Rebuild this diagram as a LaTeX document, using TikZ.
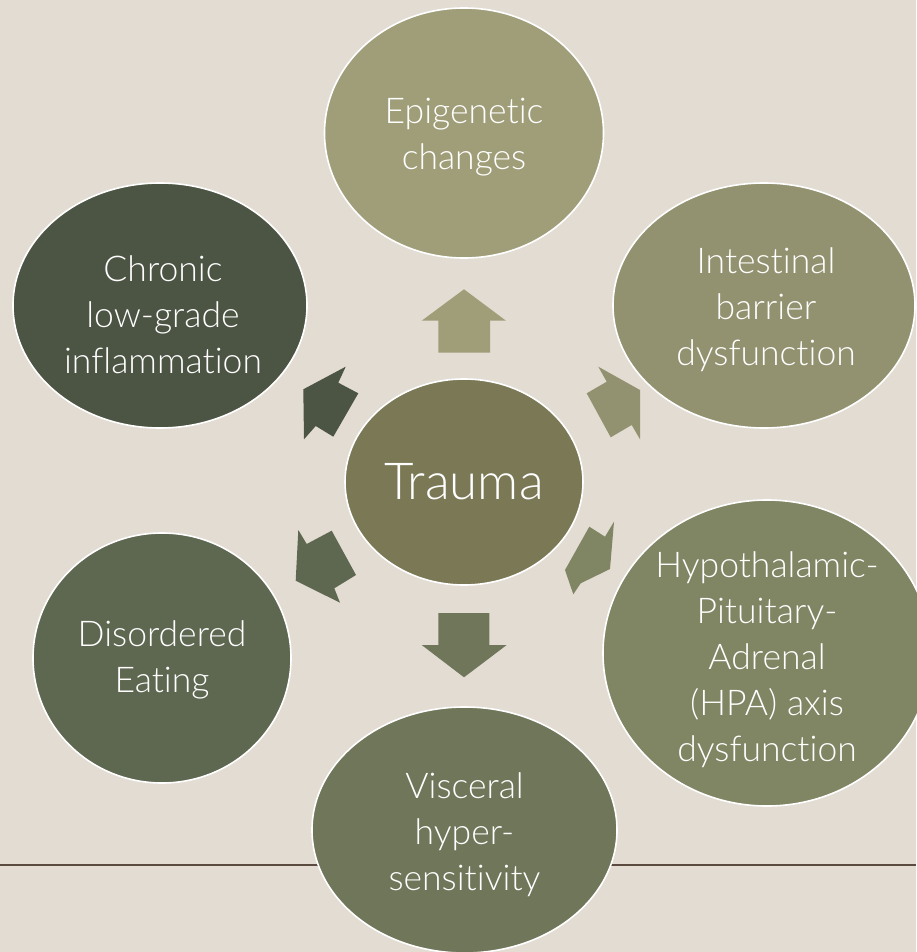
\documentclass[tikz,border=0pt]{standalone}
\usepackage{fontspec}
\setmainfont{Lato Light}[Ligatures={NoCommon,NoContextual,NoRare}]
\usetikzlibrary{shapes.geometric}
\definecolor{bgc}{HTML}{E3DCD3}
\definecolor{cEpi}{HTML}{A09E79}
\definecolor{cInt}{HTML}{939270}
\definecolor{cHpa}{HTML}{808563}
\definecolor{cVis}{HTML}{6F7659}
\definecolor{cDis}{HTML}{5E6750}
\definecolor{cChr}{HTML}{4C5443}
\definecolor{cTra}{HTML}{7B7856}
\definecolor{cLine}{HTML}{5B4A40}
\tikzset{
  bubble/.style={ellipse, draw=white, line width=1.6pt, inner sep=0pt},
  txt/.style={text=white, align=center, inner sep=0pt, font=\fontsize{35.5}{46}\selectfont}
}
\begin{document}
\begin{tikzpicture}[x=1pt,y=-1pt]
\useasboundingbox (0,0) rectangle (916,952);
\fill[bgc] (0,0) rectangle (916,952);
% horizontal rule
\coordinate (ruleL) at (0,865);
\coordinate (ruleR) at (916,865);
\draw[cLine, line width=2.2pt] (ruleL) -- (ruleR);
% bubbles
\node[bubble, fill=cEpi, minimum width=279pt, minimum height=250pt] (epi) at (464,133) {};
\node[bubble, fill=cInt, minimum width=302pt, minimum height=245pt] (int) at (764,305.5) {};
\node[bubble, fill=cHpa, minimum width=328pt, minimum height=306pt] (hpa) at (767,653) {};
\node[bubble, fill=cVis, minimum width=305pt, minimum height=246pt] (vis) at (464.5,830) {};
\node[bubble, fill=cDis, minimum width=258pt, minimum height=250pt] (dis) at (162,658) {};
\node[bubble, fill=cChr, minimum width=294pt, minimum height=245pt] (chr) at (160,305.5) {};
\node[bubble, fill=cTra, minimum width=238pt, minimum height=206pt] (tra) at (464,482) {};
% texts
\node[txt] (epiT) at ([yshift=-4pt]epi.center) {Epigenetic\\changes};
\node[txt] (intT) at ([xshift=2pt,yshift=-4pt]int.center) {Intestinal\\barrier\\dysfunction};
\node[txt] (hpaT) at ([yshift=-7pt]hpa.center) {Hypothalamic-\\Pituitary-\\Adrenal\\(HPA) axis\\dysfunction};
\node[txt] (visT) at ([yshift=-5pt]vis.center) {Visceral\\hyper-\\sensitivity};
\node[txt] (disT) at ([yshift=-2pt]dis.center) {Disordered\\Eating};
\node[txt] (chrT) at ([xshift=3pt,yshift=-9pt]chr.center) {Chronic\\low-grade\\inflammation};
\node[txt, font=\fontsize{51}{60}\selectfont] (traT) at ([yshift=0pt]tra.center) {Trauma};
% block arrows
\fill[cEpi] (464,289.3) -- (506,320.7) -- (490,320.7) -- (490,352.7) -- (438.3,352.7) -- (438.3,320.7) -- (421.7,320.7) -- cycle;
\fill[cVis] (464,677.3) -- (506.7,645) -- (489.3,645) -- (489.3,613) -- (438.3,613) -- (438.3,645) -- (421.7,645) -- cycle;
\fill[cChr] (303.3,389.3) -- (345.7,366.7) -- (338.3,382.7) -- (358.3,393.3) -- (333.3,436.7) -- (315.7,426) -- (304,439.3) -- cycle;
\fill[cInt] (598.3,366.7) -- (640,390) -- (640,439.3) -- (631.7,425) -- (610.7,437.3) -- (586.7,393.3) -- (606.7,381.7) -- cycle;
\fill[cDis] (298.3,530) -- (306.7,544) -- (331.7,530.7) -- (356,575) -- (334.3,588.3) -- (340,602.7) -- (295.7,580.7) -- cycle;
\fill[cHpa] (589.3,526.7) -- (605,536.7) -- (614,521.7) -- (610,569) -- (580.7,583.3) -- (573.3,594.3) -- (565,570) -- cycle;
\end{tikzpicture}
\end{document}
